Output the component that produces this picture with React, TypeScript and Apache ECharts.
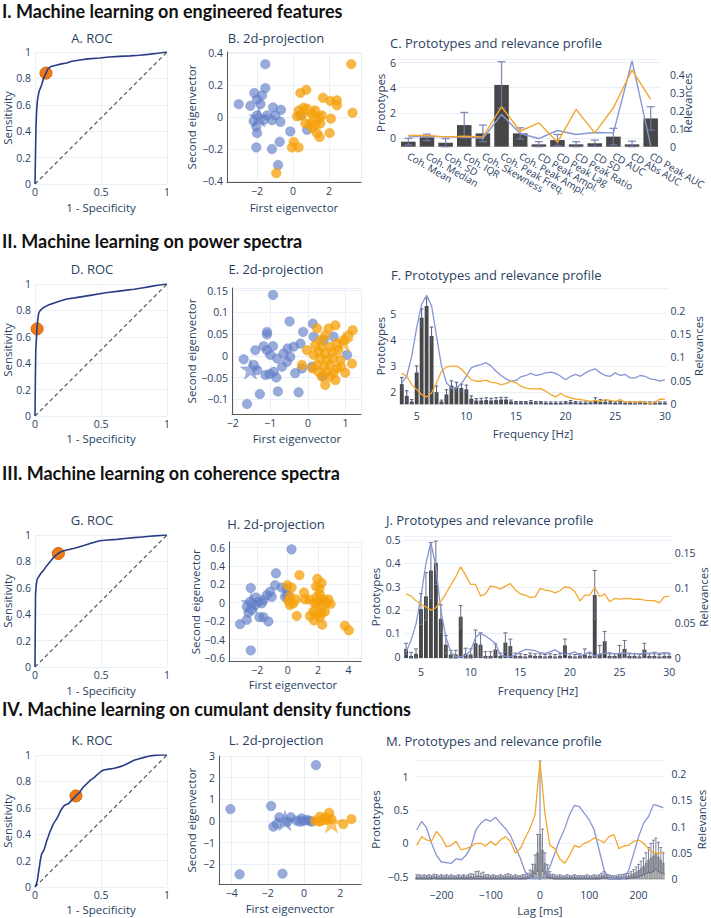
import { useEffect, useRef } from 'react'
import * as echarts from 'echarts'

const FONT = '"Open Sans", "Liberation Sans", sans-serif'
const INK = '#2a3f5f'
const GRIDLINE = '#ebf0f8'
const PT_BLUE = '#627ec6'
const PT_ORANGE = '#f5a00a'
const LN_BLUE = '#8795d4'
const LN_ORANGE = '#f3a72e'
const NAVY = '#2a3c85'
const CUT = '#ef7b17'
const BAR = '#474747'

// ---------- ROC curves: [1 - specificity, sensitivity]
const rocA = [[0, 0], [0.004, 0.25], [0.008, 0.45], [0.012, 0.55], [0.018, 0.63], [0.03, 0.7], [0.05, 0.75], [0.065, 0.8], [0.083, 0.84], [0.1, 0.875], [0.12, 0.89], [0.16, 0.9], [0.2, 0.91], [0.24, 0.917], [0.28, 0.93], [0.34, 0.94], [0.4, 0.948], [0.49, 0.955], [0.56, 0.962], [0.64, 0.967], [0.72, 0.971], [0.79, 0.975], [0.86, 0.982], [0.93, 0.99], [1, 1]]
const cutA = [0.083, 0.84]
const rocD = [[0, 0], [0.003, 0.3], [0.006, 0.5], [0.015, 0.66], [0.02, 0.72], [0.028, 0.78], [0.04, 0.8], [0.063, 0.82], [0.1, 0.84], [0.14, 0.855], [0.19, 0.872], [0.24, 0.886], [0.3, 0.895], [0.37, 0.906], [0.43, 0.916], [0.49, 0.926], [0.55, 0.935], [0.62, 0.944], [0.68, 0.952], [0.75, 0.96], [0.81, 0.97], [0.87, 0.98], [0.93, 0.99], [1, 1]]
const cutD = [0.016, 0.66]
const rocG = [[0, 0], [0.002, 0.3], [0.004, 0.55], [0.008, 0.61], [0.015, 0.66], [0.025, 0.68], [0.045, 0.71], [0.063, 0.73], [0.08, 0.755], [0.1, 0.78], [0.12, 0.805], [0.14, 0.83], [0.177, 0.86], [0.2, 0.875], [0.24, 0.886], [0.3, 0.9], [0.37, 0.92], [0.43, 0.94], [0.49, 0.957], [0.55, 0.962], [0.62, 0.967], [0.68, 0.973], [0.75, 0.98], [0.81, 0.985], [0.87, 0.99], [0.93, 0.995], [1, 1]]
const cutG = [0.177, 0.86]
const rocK = [[0, 0], [0.01, 0.02], [0.018, 0.05], [0.025, 0.1], [0.033, 0.15], [0.04, 0.2], [0.05, 0.25], [0.068, 0.28], [0.08, 0.32], [0.089, 0.35], [0.1, 0.38], [0.114, 0.42], [0.127, 0.45], [0.14, 0.48], [0.16, 0.51], [0.177, 0.54], [0.195, 0.58], [0.215, 0.61], [0.235, 0.625], [0.253, 0.63], [0.28, 0.66], [0.31, 0.69], [0.34, 0.72], [0.36, 0.75], [0.38, 0.77], [0.4, 0.79], [0.42, 0.81], [0.45, 0.83], [0.47, 0.85], [0.5, 0.875], [0.52, 0.886], [0.56, 0.893], [0.6, 0.9], [0.64, 0.91], [0.67, 0.92], [0.71, 0.94], [0.75, 0.96], [0.79, 0.972], [0.82, 0.98], [0.86, 0.99], [0.9, 0.997], [0.95, 1], [1, 1]]
const cutK = [0.31, 0.69]

// ---------- 2d projections: [first eigenvector, second eigenvector]
const projBBlue = [[-1.54, 0.33], [-1.54, 0.18], [-3.02, 0.08], [-2.37, 0.07], [-2.15, 0.15], [-2.0, 0.11], [-1.72, 0.135], [-1.81, 0.08], [-1.11, 0.06], [-0.67, 0.045], [-2.0, 0.01], [-1.44, 0.01], [-0.98, 0.01], [-1.17, -0.02], [-1.63, -0.02], [-0.7, -0.03], [-2.04, -0.06], [-2.0, -0.1], [-0.74, -0.155], [-0.15, -0.09], [-2.04, -0.19], [-1.17, -0.2], [-0.83, -0.3], [0.4, 0.01], [0.78, -0.08], [-2.19, -0.025]]
const projBOrange = [[3.24, 0.33], [3.31, 0.027], [0.74, 0.17], [0.41, 0.15], [1.67, 0.12], [2.07, 0.1], [2.44, 0.104], [2.44, 0.073], [0.31, 0.04], [0.59, 0.058], [0.78, 0.052], [0.22, 0.004], [0.5, 0.01], [1.06, 0.02], [1.24, 0.04], [1.43, -0.01], [1.61, 0.01], [2.11, -0.01], [0.69, -0.04], [0.96, -0.04], [1.24, -0.05], [1.06, -0.07], [1.52, -0.04], [1.33, -0.1], [1.48, -0.125], [2.04, -0.1], [0.04, -0.156], [0.31, -0.19], [-0.06, -0.19], [-0.93, -0.35]]
const starsB = [[-1.9, 0.0], [1.15, 0.01]]

const projEBlue = [[-0.93, 0.14], [-0.49, 0.079], [-1.09, 0.055], [-1.09, 0.049], [-0.13, 0.055], [0.13, 0.074], [-1.18, 0.022], [-0.93, 0.022], [-1.09, 0.013], [-1.4, 0.013], [-1.71, -0.008], [-1.0, 0.002], [-0.82, -0.006], [-0.65, 0.005], [-0.54, 0.017], [-0.38, 0.021], [-0.2, 0.028], [-0.47, -0.002], [-0.56, -0.014], [-0.69, -0.025], [-0.91, -0.037], [-1.13, -0.044], [-1.35, -0.033], [-1.44, -0.021], [-0.34, -0.04], [-0.16, -0.029], [0.11, -0.025], [0.15, 0.044], [0.42, 0.036], [0.68, 0.044], [1.04, 0.002], [0.4, -0.047], [-1.28, -0.088], [-0.8, -0.082], [-0.25, -0.084], [-1.62, -0.111], [-0.84, -0.05], [-1.02, -0.042]]
const projEOrange = [[0.24, 0.063], [0.55, 0.063], [0.73, 0.07], [1.19, 0.059], [1.08, 0.047], [0.95, 0.036], [0.46, 0.047], [0.33, 0.036], [0.19, 0.024], [0.37, 0.021], [0.59, 0.021], [0.77, 0.028], [0.28, 0.009], [0.46, 0.005], [0.64, 0.009], [0.81, 0.013], [0.15, 0.002], [0.33, -0.006], [0.5, -0.01], [0.68, -0.006], [0.86, -0.01], [1.17, -0.018], [0.24, -0.021], [0.42, -0.025], [0.59, -0.021], [0.77, -0.029], [0.11, -0.029], [0.28, -0.037], [0.5, -0.037], [0.68, -0.04], [0.99, -0.039], [0.88, -0.025], [0.37, -0.048], [0.59, -0.048], [0.73, -0.056], [0.46, -0.067], [-0.16, -0.021], [-0.03, 0.013]]
const starsE = [[-1.53, -0.031], [0.95, 0.032]]

const projHBlue = [[-0.77, 0.32], [-2.43, 0.16], [-0.83, 0.19], [-0.39, 0.164], [-0.07, 0.154], [-1.16, 0.118], [-1.38, 0.082], [-1.05, 0.064], [-1.6, 0.029], [-1.92, 0.011], [-2.14, -0.025], [-2.47, 0.011], [-2.69, -0.043], [-2.36, -0.079], [-2.58, -0.107], [-1.86, -0.157], [-1.6, -0.157], [-1.27, -0.204], [-2.69, -0.186], [-3.13, -0.232], [-2.43, -0.518], [-0.17, 0.064], [-1.7, -0.007], [-2.08, 0.057], [0.25, 0.58], [-0.02, 0.08]]
const projHOrange = [[0.77, 0.3], [-0.02, 0.19], [0.26, 0.164], [1.07, 0.11], [1.95, 0.26], [2.23, 0.214], [2.08, 0.154], [1.86, 0.179], [0.15, 0.071], [0.55, 0.036], [0.04, 0.021], [0.37, -0.007], [1.14, 0.036], [1.42, 0.036], [1.9, 0.064], [2.12, 0.089], [2.34, 0.036], [2.67, 0.036], [2.82, -0.014], [1.79, -0.007], [2.08, 0.011], [2.23, -0.043], [2.56, 0.0], [1.68, -0.096], [1.46, -0.143], [1.95, -0.121], [2.23, -0.114], [2.12, -0.157], [2.45, -0.096], [1.73, -0.193], [2.27, -0.239], [0.59, -0.143], [0.15, -0.025], [3.76, -0.25], [4.02, -0.3]]
const starsH = [[-2.4, 0.0], [1.9, 0.01]]

const projLBlue = [[0.66, 2.58], [-4.07, 0.55], [-1.82, 0.69], [-3.56, -2.46], [-1.19, -2.43], [-1.36, 0.17], [-1.69, -0.26], [-1.5, -0.14], [-0.73, 0.17], [-0.4, 0.015], [-0.13, 0.12], [0.15, 0.05], [0.42, -0.03], [0.29, 0.015], [-0.04, 0.0], [-0.92, -0.03], [-0.22, -0.03]]
const projLOrange = [[0.88, 0.2], [1.39, 0.38], [0.97, 0.015], [1.25, 0.05], [1.52, 0.09], [2.17, -0.14], [2.62, 0.09], [0.84, -0.03], [0.61, 0.015], [1.16, 0.17]]
const starsL = [[-1.05, 0.02], [1.52, -0.08]]

// ---------- C: engineered features
const featureNames = ['Coh. Mean', 'Coh. Median', 'Coh. SD', 'Coh. IQR', 'Coh. Skewness', 'Coh. Peak Freq.', 'Coh. Peak Ampl.', 'CD Peak Ampl.', 'CD Peak Lag', 'CD Peak Ratio', 'CD SD', 'CD AUC', 'CD Abs AUC', 'CD Peak AUC']
const relC = [0.028, 0.052, 0.022, 0.12, 0.074, 0.343, 0.074, 0.013, 0.037, 0.013, 0.019, 0.056, 0.013, 0.157]
const relErrC = [0.018, 0.018, 0.022, 0.07, 0.046, 0.129, 0.031, 0.015, 0.031, 0.015, 0.018, 0.046, 0.018, 0.065]
const protoBlueC = [0.08, 0.13, 0.08, 0.08, -0.05, 1.87, 0.35, -0.05, 0.59, 0.27, 0.43, 0.4, 6.13, -0.61]
const protoOrangeC = [0.19, 0.19, 0.08, 0.13, 0.08, 2.48, 0.53, 1.2, -0.35, 2.27, 0.4, 2.4, 5.41, 3.07]

// ---------- F and J: frequency in Hz
const freqs = [3.5, 4, 4.5, 5, 5.5, 6, 6.5, 7, 7.5, 8, 8.5, 9, 9.5, 10, 10.5, 11, 11.5, 12, 12.5, 13, 13.5, 14, 14.5, 15, 15.5, 16, 16.5, 17, 17.5, 18, 18.5, 19, 19.5, 20, 20.5, 21, 21.5, 22, 22.5, 23, 23.5, 24, 24.5, 25, 25.5, 26, 26.5, 27, 27.5, 28, 28.5, 29, 29.5, 30]

const relF = [0.043, 0.018, 0.006, 0.068, 0.185, 0.21, 0.146, 0.026, 0.006, 0.021, 0.04, 0.037, 0.035, 0.032, 0.012, 0.008, 0.008, 0.009, 0.008, 0.009, 0.01, 0.01, 0.006, 0.004, 0.004, 0.004, 0.005, 0.004, 0.004, 0.003, 0.003, 0.003, 0.003, 0.004, 0.005, 0.004, 0.003, 0.003, 0.004, 0.008, 0.006, 0.005, 0.004, 0.003, 0.004, 0.003, 0.003, 0.003, 0.004, 0.003, 0.003, 0.003, 0.003, 0.003]
const relErrF = [0.014, 0.011, 0.004, 0.014, 0.019, 0.017, 0.019, 0.013, 0.003, 0.01, 0.01, 0.01, 0.008, 0.009, 0.006, 0.004, 0.005, 0.005, 0.005, 0.005, 0.005, 0.005, 0.003, 0.002, 0.002, 0.002, 0.003, 0.002, 0.002, 0.002, 0.002, 0.002, 0.002, 0.002, 0.003, 0.002, 0.002, 0.002, 0.002, 0.006, 0.004, 0.003, 0.002, 0.002, 0.002, 0.002, 0.002, 0.002, 0.002, 0.002, 0.002, 0.002, 0.002, 0.002]
const protoBlueF = [2.35, 2.6, 3.37, 4.46, 5.36, 5.7, 5.3, 4.14, 2.99, 2.35, 2.15, 2.15, 2.32, 2.6, 2.92, 3.01, 3.05, 3.12, 2.99, 2.79, 2.63, 2.5, 2.41, 2.44, 2.58, 2.63, 2.71, 2.63, 2.67, 2.73, 2.76, 2.71, 2.6, 2.47, 2.6, 2.67, 2.6, 2.73, 2.83, 2.88, 2.73, 2.63, 2.6, 2.73, 2.63, 2.67, 2.54, 2.54, 2.63, 2.6, 2.5, 2.47, 2.41, 2.47]
const protoOrangeF = [2.71, 2.6, 2.28, 2.09, 1.9, 1.81, 1.96, 2.35, 2.79, 2.96, 2.99, 2.99, 2.88, 2.67, 2.47, 2.41, 2.41, 2.45, 2.37, 2.35, 2.28, 2.32, 2.41, 2.35, 2.22, 2.15, 2.12, 2.12, 2.13, 2.03, 1.9, 1.81, 1.94, 1.83, 1.77, 1.73, 1.71, 1.68, 1.64, 1.68, 1.64, 1.71, 1.68, 1.64, 1.71, 1.6, 1.64, 1.58, 1.64, 1.6, 1.55, 1.6, 1.73, 1.71]

const relJ = [0.013, 0.003, 0.006, 0.07, 0.088, 0.125, 0.136, 0.056, 0.019, 0.005, 0.005, 0.059, 0.006, 0.005, 0.021, 0.019, 0.003, 0.003, 0.012, 0.003, 0.022, 0.017, 0.003, 0.003, 0.002, 0.004, 0.003, 0.003, 0.002, 0.003, 0.002, 0.003, 0.018, 0.003, 0.002, 0.003, 0.005, 0.003, 0.09, 0.006, 0.024, 0.003, 0.003, 0.007, 0.013, 0.003, 0.003, 0.002, 0.012, 0.003, 0.003, 0.002, 0.003, 0.003]
const relErrJ = [0.008, 0.005, 0.007, 0.022, 0.034, 0.04, 0.031, 0.02, 0.013, 0.006, 0.006, 0.016, 0.008, 0.008, 0.019, 0.017, 0.006, 0.006, 0.008, 0.004, 0.014, 0.01, 0.004, 0.003, 0.003, 0.003, 0.003, 0.003, 0.003, 0.003, 0.003, 0.003, 0.009, 0.003, 0.003, 0.003, 0.008, 0.004, 0.035, 0.012, 0.014, 0.003, 0.003, 0.011, 0.012, 0.004, 0.003, 0.003, 0.009, 0.003, 0.003, 0.003, 0.003, 0.003]
const protoBlueJ = [0.02, 0.07, 0.14, 0.26, 0.4, 0.49, 0.386, 0.2, 0.086, 0.02, 0.0, 0.0, 0.007, 0.026, 0.083, 0.1, 0.089, 0.074, 0.057, 0.007, 0.002, 0.001, 0.006, 0.021, 0.031, 0.029, 0.026, 0.017, 0.014, 0.021, 0.029, 0.017, 0.011, 0.014, 0.021, 0.003, 0.011, 0.021, 0.001, 0.011, 0.014, 0.017, 0.011, 0.014, 0.017, 0.011, 0.014, 0.011, 0.017, 0.014, 0.02, 0.014, 0.017, 0.017]
const protoOrangeJ = [0.27, 0.26, 0.24, 0.225, 0.214, 0.2, 0.21, 0.236, 0.27, 0.307, 0.343, 0.386, 0.35, 0.31, 0.31, 0.26, 0.27, 0.303, 0.3, 0.29, 0.303, 0.314, 0.286, 0.27, 0.264, 0.254, 0.257, 0.293, 0.286, 0.283, 0.274, 0.283, 0.3, 0.297, 0.279, 0.239, 0.264, 0.264, 0.297, 0.257, 0.27, 0.236, 0.25, 0.247, 0.249, 0.25, 0.246, 0.247, 0.243, 0.241, 0.241, 0.231, 0.257, 0.26]

// ---------- M: lag in ms
const lagBars = [-250, -245, -240, -235, -230, -225, -220, -215, -210, -205, -200, -195, -190, -185, -180, -175, -170, -165, -160, -155, -150, -145, -140, -135, -130, -125, -120, -115, -110, -105, -100, -95, -90, -85, -80, -75, -70, -65, -60, -55, -50, -45, -40, -35, -30, -25, -20, -15, -10, -5, 0, 5, 10, 15, 20, 25, 30, 35, 40, 45, 50, 55, 60, 65, 70, 75, 80, 85, 90, 95, 100, 105, 110, 115, 120, 125, 130, 135, 140, 145, 150, 155, 160, 165, 170, 175, 180, 185, 190, 195, 200, 205, 210, 215, 220, 225, 230, 235, 240, 245, 250]
const relM = [0.004, 0.004, 0.003, 0.004, 0.003, 0.004, 0.003, 0.005, 0.004, 0.003, 0.004, 0.003, 0.004, 0.003, 0.004, 0.003, 0.003, 0.004, 0.003, 0.004, 0.003, 0.004, 0.005, 0.004, 0.006, 0.007, 0.005, 0.006, 0.004, 0.004, 0.003, 0.004, 0.003, 0.003, 0.004, 0.003, 0.004, 0.005, 0.004, 0.003, 0.004, 0.003, 0.003, 0.004, 0.004, 0.006, 0.009, 0.016, 0.028, 0.05, 0.085, 0.055, 0.03, 0.015, 0.008, 0.005, 0.004, 0.003, 0.004, 0.003, 0.003, 0.004, 0.003, 0.003, 0.004, 0.003, 0.003, 0.003, 0.003, 0.004, 0.003, 0.003, 0.004, 0.003, 0.004, 0.006, 0.008, 0.005, 0.004, 0.003, 0.003, 0.003, 0.004, 0.004, 0.005, 0.005, 0.006, 0.008, 0.01, 0.013, 0.016, 0.02, 0.024, 0.03, 0.036, 0.04, 0.044, 0.048, 0.042, 0.036, 0.03]
const relErrM = [0.004, 0.004, 0.003, 0.004, 0.003, 0.004, 0.003, 0.004, 0.004, 0.003, 0.004, 0.003, 0.004, 0.003, 0.004, 0.003, 0.003, 0.004, 0.003, 0.004, 0.003, 0.004, 0.005, 0.005, 0.008, 0.008, 0.006, 0.007, 0.004, 0.004, 0.003, 0.004, 0.003, 0.003, 0.004, 0.003, 0.004, 0.005, 0.004, 0.003, 0.004, 0.003, 0.003, 0.004, 0.004, 0.005, 0.008, 0.012, 0.018, 0.035, 0.14, 0.04, 0.02, 0.012, 0.006, 0.004, 0.004, 0.003, 0.004, 0.003, 0.003, 0.004, 0.003, 0.003, 0.004, 0.003, 0.003, 0.003, 0.003, 0.004, 0.003, 0.003, 0.004, 0.003, 0.004, 0.005, 0.006, 0.004, 0.004, 0.003, 0.003, 0.003, 0.004, 0.004, 0.004, 0.005, 0.005, 0.006, 0.008, 0.01, 0.012, 0.014, 0.016, 0.02, 0.024, 0.028, 0.03, 0.03, 0.028, 0.024, 0.02]
const lagLine = [-250, -240, -230, -220, -210, -200, -190, -180, -170, -160, -150, -140, -130, -120, -110, -100, -90, -80, -70, -60, -50, -40, -30, -20, -10, 0, 10, 20, 30, 40, 50, 60, 70, 80, 90, 100, 110, 120, 130, 140, 150, 160, 170, 180, 190, 200, 210, 220, 230, 240, 250]
const protoBlueM = [0.2, 0.33, 0.23, 0, -0.18, -0.28, -0.29, -0.3, -0.23, -0.25, -0.18, -0.05, 0.2, 0.3, 0.36, 0.33, 0.39, 0.3, 0.22, 0.12, -0.05, -0.22, -0.43, -0.52, -0.53, -0.53, -0.5, -0.35, -0.15, 0.05, 0.22, 0.43, 0.57, 0.55, 0.45, 0.35, 0.2, -0.1, -0.4, -0.53, -0.53, -0.54, -0.53, -0.4, -0.15, 0.1, 0.3, 0.4, 0.58, 0.56, 0.53]
const protoOrangeM = [-0.03, 0.1, 0.05, 0.03, 0.18, 0.09, -0.05, -0.03, 0.03, -0.1, -0.08, -0.05, 0, 0, -0.04, 0.03, -0.03, 0.05, 0.1, 0.03, -0.15, -0.08, 0.08, 0.23, 0.43, 1.23, 0.45, -0.03, -0.08, -0.23, -0.3, -0.18, -0.03, -0.06, 0, 0.03, 0.08, 0.05, 0.01, 0.1, 0.13, -0.08, -0.04, -0.03, 0.03, 0.05, 0, -0.08, -0.14, -0.15, -0.13]

const STAR = 'path://M50,0 L61,35 L98,35 L68,57 L79,91 L50,70 L21,91 L32,57 L2,35 L39,35 Z'

function fmt(v: number) {
  const r = Math.round(v * 1000) / 1000
  return (r < 0 ? '\u2212' : '') + String(Math.abs(r))
}

function onStep(v: number, step: number) {
  const k = v / step
  return Math.abs(k - Math.round(k)) < 1e-6
}

function buildOption() {
  const grid: any[] = []
  const xAxis: any[] = []
  const yAxis: any[] = []
  const series: any[] = []
  const texts: any[] = []

  const text = (x: number, y: number, s: string, font: string, o: any = {}) => {
    texts.push({
      type: 'text',
      x,
      y,
      rotation: o.rot || 0,
      silent: true,
      style: {
        text: s,
        font,
        fill: o.fill || INK,
        align: o.align || 'center',
        verticalAlign: 'middle',
        textAlign: o.align || 'center',
        textVerticalAlign: 'middle',
      },
    })
  }
  const TITLE = `13px ${FONT}`
  const NAME = `11.5px ${FONT}`
  const TICK = 10.5

  const valueAxis = (g: number, min: number, max: number, step: number, o: any = {}) => ({
    type: 'value',
    gridIndex: g,
    min,
    max,
    minInterval: step,
    maxInterval: step,
    position: o.position,
    axisLine: { show: !!o.line, onZero: false, lineStyle: { color: '#5a5a5a', width: 1 } },
    axisTick: { show: false },
    splitLine: { show: o.split !== false, lineStyle: { color: GRIDLINE, width: 1 } },
    axisLabel: {
      margin: o.margin ?? 4,
      fontSize: TICK,
      color: INK,
      fontFamily: FONT,
      formatter: fmt,
      showMinLabel: onStep(min, step),
      showMaxLabel: onStep(max, step),
    },
  })

  const addGrid = (left: number, top: number, width: number, height: number) => {
    grid.push({ left, top, width, height, show: false, containLabel: false })
    return grid.length - 1
  }

  // ROC panel
  const roc = (top: number, title: string, titleY: number, nameY: number, curve: number[][], cut: number[]) => {
    const g = addGrid(35, top, 132, 132)
    const xi = xAxis.length
    const yi = yAxis.length
    xAxis.push(valueAxis(g, 0, 1, 0.5, { margin: 2 }))
    yAxis.push(valueAxis(g, 0, 1, 0.2, { margin: 4 }))
    series.push(
      { type: 'line', xAxisIndex: xi, yAxisIndex: yi, data: [[0, 0], [1, 1]], symbol: 'none', silent: true, lineStyle: { color: '#555', width: 1.2, type: [4, 3] } },
      { type: 'line', xAxisIndex: xi, yAxisIndex: yi, data: curve, symbol: 'none', lineStyle: { color: NAVY, width: 1.6 } },
      { type: 'scatter', xAxisIndex: xi, yAxisIndex: yi, data: [cut], symbolSize: 12, itemStyle: { color: CUT, borderColor: '#d0620c', borderWidth: 1, opacity: 1 } },
    )
    text(92, titleY, title, TITLE)
    text(101, nameY, '1 - Specificity', NAME)
    text(7, top + 66, 'Sensitivity', NAME, { rot: Math.PI / 2 })
  }

  // 2d projection panel
  const proj = (
    box: number[], xr: number[], yr: number[], title: string, titleY: number, name: number[], ynameX: number,
    blue: number[][], orange: number[][], stars: number[][],
  ) => {
    const g = addGrid(box[0], box[1], box[2], box[3])
    const xi = xAxis.length
    const yi = yAxis.length
    xAxis.push(valueAxis(g, xr[0], xr[1], xr[2], { line: true, margin: 3 }))
    yAxis.push(valueAxis(g, yr[0], yr[1], yr[2], { line: true, margin: 4 }))
    const pt = (c: string, a: number) => ({ color: c, opacity: a, borderColor: c, borderWidth: 0.6 })
    series.push(
      { type: 'scatter', xAxisIndex: xi, yAxisIndex: yi, data: blue, symbolSize: 9.5, itemStyle: pt(PT_BLUE, 0.65) },
      { type: 'scatter', xAxisIndex: xi, yAxisIndex: yi, data: orange, symbolSize: 9.5, itemStyle: pt(PT_ORANGE, 0.75) },
      { type: 'scatter', xAxisIndex: xi, yAxisIndex: yi, data: [stars[0]], symbol: STAR, symbolSize: 20, itemStyle: pt(PT_BLUE, 0.6) },
      { type: 'scatter', xAxisIndex: xi, yAxisIndex: yi, data: [stars[1]], symbol: STAR, symbolSize: 20, itemStyle: pt(PT_ORANGE, 0.6) },
    )
    text(276, titleY, title, TITLE)
    text(name[0], name[1], 'First eigenvector', NAME)
    text(ynameX, box[1] + box[3] / 2, 'Second eigenvector', NAME, { rot: Math.PI / 2 })
  }

  // bars with error bars, drawn on the relevance axis
  const barsWithErrors = (xi: number, yi: number, data: number[][], unit: number, fill: string, stroke: string, errColor: string, errWidth: number, cap: number) => ({
    type: 'custom',
    xAxisIndex: xi,
    yAxisIndex: yi,
    data,
    encode: { x: 0, y: 1 },
    renderItem: (_p: any, api: any) => {
      const x = api.value(0)
      const v = api.value(1)
      const e = api.value(2)
      const base = api.coord([x, 0])
      const top = api.coord([x, v])
      const bw = api.size([unit, 0])[0] * 0.78
      const hi = api.coord([x, v + e])
      const lo = api.coord([x, Math.max(v - e, 0)])
      const ls = { stroke: errColor, lineWidth: errWidth }
      return {
        type: 'group',
        children: [
          { type: 'rect', shape: { x: base[0] - bw / 2, y: top[1], width: bw, height: base[1] - top[1] }, style: { fill, stroke, lineWidth: stroke === 'none' ? 0 : 0.5 } },
          { type: 'line', shape: { x1: hi[0], y1: hi[1], x2: lo[0], y2: lo[1] }, style: ls },
          { type: 'line', shape: { x1: hi[0] - cap / 2, y1: hi[1], x2: hi[0] + cap / 2, y2: hi[1] }, style: ls },
          { type: 'line', shape: { x1: lo[0] - cap / 2, y1: lo[1], x2: lo[0] + cap / 2, y2: lo[1] }, style: ls },
        ],
      }
    },
  })

  // prototypes & relevance panel
  const profile = (
    box: number[], left: number[], right: number[], margins: number[], title: string, titleAt: number[],
    protoX: number, relX: number,
  ) => {
    const g = addGrid(box[0], box[1], box[2], box[3])
    const yl = yAxis.length
    yAxis.push(valueAxis(g, left[0], left[1], left[2], { margin: margins[0], position: 'left' }))
    yAxis.push(valueAxis(g, right[0], right[1], right[2], { margin: margins[1], position: 'right', split: false }))
    text(titleAt[0], titleAt[1], title, TITLE, { align: 'left' })
    const mid = box[1] + box[3] / 2
    text(protoX, mid, 'Prototypes', NAME, { rot: Math.PI / 2 })
    text(relX, mid, 'Relevances', NAME, { rot: Math.PI / 2 })
    return { g, yl, yr: yl + 1 }
  }

  const lines = (xi: number, yi: number, blue: any[], orange: any[], w: number) => {
    series.push(
      { type: 'line', xAxisIndex: xi, yAxisIndex: yi, data: blue, symbol: 'none', lineStyle: { color: LN_BLUE, width: w } },
      { type: 'line', xAxisIndex: xi, yAxisIndex: yi, data: orange, symbol: 'none', lineStyle: { color: LN_ORANGE, width: w } },
    )
  }

  // ---------------- Row I
  roc(52, 'A. ROC', 38, 207, rocA, cutA)
  proj([227, 52, 134, 130], [-3.67, 3.78, 2], [-0.406, 0.406, 0.2], 'B. 2d-projection', 38, [294, 207], 191, projBBlue, projBOrange, starsB)
  {
    const p = profile([399, 59, 261, 87.7], [-0.7, 6.28, 2], [0, 0.487, 0.1], [3, 10], 'C. Prototypes and relevance profile', [390, 43], 380, 687)
    const xi = xAxis.length
    xAxis.push({
      type: 'category',
      gridIndex: p.g,
      data: featureNames,
      boundaryGap: true,
      axisLine: { show: false, onZero: false },
      axisTick: { show: false },
      splitLine: { show: false },
      axisLabel: { interval: 0, rotate: -30, margin: 8, fontSize: 10, color: INK, fontFamily: FONT },
    })
    series.push(barsWithErrors(xi, p.yr, relC.map((v, i) => [i, v, relErrC[i]]), 1, BAR, 'none', 'rgba(110,125,175,0.85)', 1.3, 8))
    lines(xi, p.yl, protoBlueC, protoOrangeC, 1.4)
  }

  // ---------------- Row II
  roc(284, 'D. ROC', 269, 438, rocD, cutD)
  proj([232, 288, 129, 126], [-2.02, 1.41, 1], [-0.134, 0.156, 0.05], 'E. 2d-projection', 269, [297, 438], 191, projEBlue, projEOrange, starsE)
  {
    const p = profile([399.3, 288, 268.1, 116.3], [1.527, 5.98, 1], [0, 0.2485, 0.05], [3, 3], 'F. Prototypes and relevance profile', [391, 275], 380, 698)
    const xi = xAxis.length
    xAxis.push(valueAxis(p.g, 3.25, 30.25, 5, { margin: 6, split: false }))
    series.push(barsWithErrors(xi, p.yr, freqs.map((f, i) => [f, relF[i], relErrF[i]]), 0.5, BAR, 'none', '#4f587a', 1, 3.5))
    lines(xi, p.yl, freqs.map((f, i) => [f, protoBlueF[i]]), freqs.map((f, i) => [f, protoOrangeF[i]]), 1.3)
    text(533, 433, 'Frequency [Hz]', NAME)
  }

  // ---------------- Row III
  roc(535, 'G. ROC', 520, 690, rocG, cutG)
  proj([229, 542, 132, 119.6], [-3.86, 4.82, 2], [-0.64, 0.66, 0.2], 'H. 2d-projection', 524, [293, 684], 195, projHBlue, projHOrange, starsH)
  {
    const p = profile([403.6, 536, 268.1, 122], [-0.0056, 0.518, 0.1], [0, 0.1743, 0.05], [3, 3], 'J. Prototypes and relevance profile', [386, 520], 375, 703)
    const xi = xAxis.length
    xAxis.push(valueAxis(p.g, 3.25, 30.25, 5, { margin: 8, split: false }))
    series.push(barsWithErrors(xi, p.yr, freqs.map((f, i) => [f, relJ[i], relErrJ[i]]), 0.5, BAR, 'none', '#6b7088', 1, 4))
    lines(xi, p.yl, freqs.map((f, i) => [f, protoBlueJ[i]]), freqs.map((f, i) => [f, protoOrangeJ[i]]), 1.3)
    text(538, 690, 'Frequency [Hz]', NAME)
  }

  // ---------------- Row IV
  roc(755, 'K. ROC', 740, 909, rocK, cutK)
  proj([219, 756, 142, 128.3], [-4.7, 3.15, 2], [-2.92, 3, 1], 'L. 2d-projection', 740, [290, 908], 191, projLBlue, projLOrange, starsL)
  {
    const p = profile([415.5, 760, 249, 119], [-0.535, 1.249, 0.5], [0, 0.227, 0.05], [7, 7], 'M. Prototypes and relevance profile', [386, 741], 375, 701)
    const xi = xAxis.length
    xAxis.push(valueAxis(p.g, -252.5, 252.5, 100, { margin: 10, split: false }))
    series.push(barsWithErrors(xi, p.yr, lagBars.map((l, i) => [l, relM[i], relErrM[i]]), 5, '#c4c4c4', '#666', '#5b6383', 0.8, 3))
    lines(xi, p.yl, lagLine.map((l, i) => [l, protoBlueM[i]]), lagLine.map((l, i) => [l, protoOrangeM[i]]), 1.3)
    text(540, 910, 'Lag [ms]', NAME)
  }

  // section headings
  const HEAD = `bold 18px Lato, "Liberation Sans", sans-serif`
  text(2, 11, 'I. Machine learning on engineered features', HEAD, { align: 'left', fill: '#111' })
  text(2, 241, 'II. Machine learning on power spectra', HEAD, { align: 'left', fill: '#111' })
  text(2, 473, 'III. Machine learning on coherence spectra', HEAD, { align: 'left', fill: '#111' })
  text(2, 709, 'IV. Machine learning on cumulant density functions', HEAD, { align: 'left', fill: '#111' })

  return {
    animation: false,
    backgroundColor: '#ffffff',
    textStyle: { fontFamily: FONT },
    grid,
    xAxis,
    yAxis,
    series,
    graphic: { elements: texts },
  }
}

export default function App() {
  const ref = useRef<HTMLDivElement>(null)

  useEffect(() => {
    if (!ref.current) return
    const chart = echarts.init(ref.current, undefined, { renderer: 'svg' })
    chart.setOption(buildOption() as any)
    return () => chart.dispose()
  }, [])

  return (
    <div
      ref={ref}
      style={{ position: 'absolute', left: 0, top: 0, width: 711, height: 918, background: '#fff' }}
      aria-label="Machine learning results: ROC curves, 2d projections and prototype relevance profiles"
    />
  )
}
